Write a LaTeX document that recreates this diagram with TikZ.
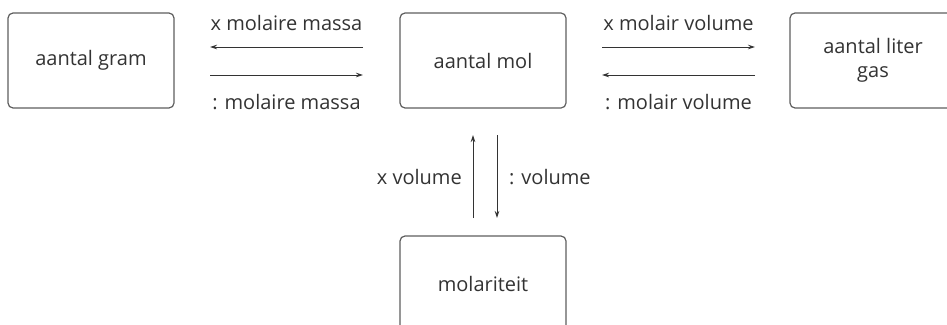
\documentclass[tikz,border=0pt]{standalone}
\usepackage{fontspec}
\setmainfont{Open Sans}
\usetikzlibrary{arrows.meta}
\definecolor{ink}{HTML}{333333}
\definecolor{frame}{HTML}{5E5E5E}
\begin{document}
\begin{tikzpicture}[x=1pt,y=-1pt,
  box/.style={draw=frame, line width=1.2pt, rounded corners=5pt,
    minimum width=166pt, minimum height=95pt, inner sep=0pt,
    text=ink, font=\fontsize{20}{24}\selectfont, align=center},
  lbl/.style={text=ink, font=\fontsize{20}{24}\selectfont, inner sep=0pt},
  conn/.style={draw=ink, line width=0.9pt, -{Stealth[length=7pt,width=4.5pt]}}]
\useasboundingbox (0,0) rectangle (947,324);
\clip (0,0) rectangle (947,324);

% boxes
\node[box] (gram)  at (91,60.5)  {aantal gram};
\node[box] (mol)   at (483,60.5) {aantal mol};
\node[box] (liter) at (873,60.5) {aantal liter\\gas};
\node[box] (molar) at (483,283.5) {molariteit};

% connector end points
\coordinate (gA) at (210,47);  \coordinate (mA) at (363,47);
\coordinate (gB) at (210,75);  \coordinate (mB) at (363,75);
\coordinate (mC) at (602,47);  \coordinate (lC) at (755,47);
\coordinate (mD) at (602,75);  \coordinate (lD) at (755,75);
\coordinate (uT) at (473,135); \coordinate (uB) at (473,218);
\coordinate (dT) at (497,135); \coordinate (dB) at (497,218);

% mass <-> mol
\draw[conn] (mA) -- (gA);
\draw[conn] (gB) -- (mB);
\node[lbl] (t1) at (286.5,23) {x molaire massa};
\node[lbl] (t2) at (286.5,102) {: molaire massa};

% mol <-> gas volume
\draw[conn] (mC) -- (lC);
\draw[conn] (lD) -- (mD);
\node[lbl] (t3) at (678.5,23) {x molair volume};
\node[lbl] (t4) at (678.5,102) {: molair volume};

% molarity <-> mol
\draw[conn] (uB) -- (uT);
\draw[conn] (dT) -- (dB);
\node[lbl, anchor=east] (t5) at (462,177) {x volume};
\node[lbl, anchor=west] (t6) at (509,177) {: volume};
\end{tikzpicture}
\end{document}
